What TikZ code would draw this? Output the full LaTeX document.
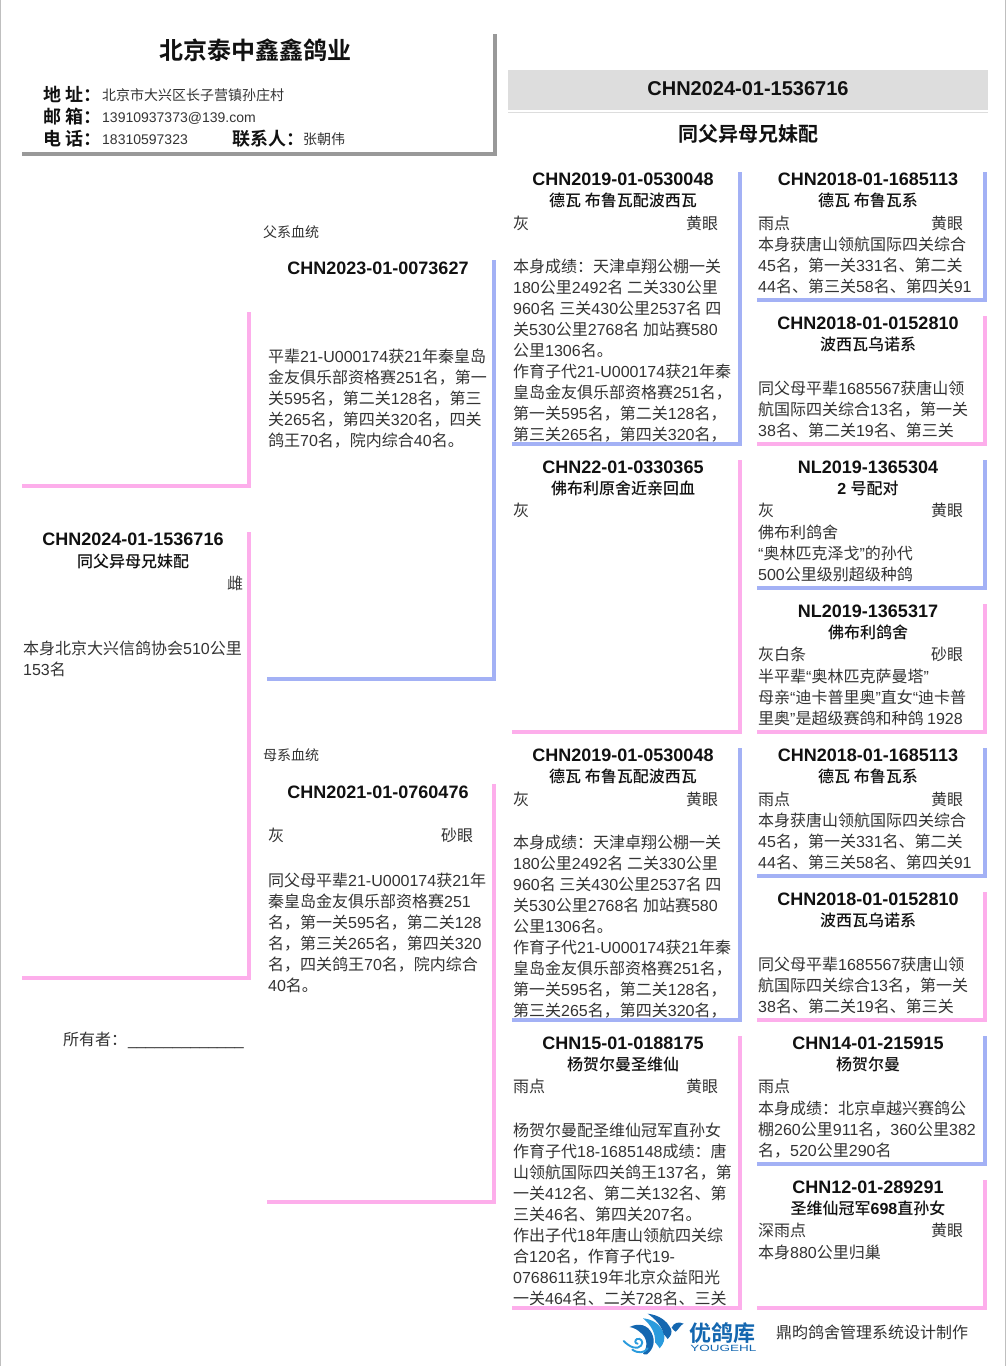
\documentclass[tikz,border=0pt]{standalone}
\usepackage{fontspec}
\setmainfont{Liberation Sans}
\newfontfamily\cjkf{Noto Sans CJK SC}[BoldFont={Noto Sans CJK SC Medium}]
\newfontfamily\cjkheavy{Noto Sans CJK SC}[UprightFont={Noto Sans CJK SC Bold},BoldFont={Noto Sans CJK SC Bold}]
\XeTeXinterchartokenstate=1
\newXeTeXintercharclass\cjkclass
\newcount\cc
\cc="4E00 \loop \XeTeXcharclass\cc=\cjkclass \ifnum\cc<"9FFF \advance\cc 1 \repeat
\cc="3000 \loop \XeTeXcharclass\cc=\cjkclass \ifnum\cc<"303F \advance\cc 1 \repeat
\cc="FF00 \loop \XeTeXcharclass\cc=\cjkclass \ifnum\cc<"FFEF \advance\cc 1 \repeat
\XeTeXinterchartoks 0 \cjkclass={\cjkf}
\XeTeXinterchartoks 4095 \cjkclass={\cjkf}
\XeTeXinterchartoks \cjkclass 0 ={\rmfamily}
\XeTeXinterchartoks 4095 0 ={\rmfamily}
\usepackage{xcolor}
\definecolor{txt}{HTML}{333333}
\definecolor{ink}{HTML}{111111}
\definecolor{bluebar}{HTML}{A3B1F5}
\definecolor{pinkbar}{HTML}{FDAEEB}
\definecolor{hdrbar}{HTML}{999999}
\definecolor{band}{HTML}{DDDDDD}
\definecolor{logod}{HTML}{1467B0}
\definecolor{logol}{HTML}{2A9BDD}
\newcount\tn
\newcommand{\fs}[1]{\fontsize{#1}{#1}\selectfont}
\newcommand{\hv}{\let\cjkf\cjkheavy}
\tikzset{
 bodytxt/.style={anchor=base west,inner sep=0pt,font=\fs{16},text=txt,yshift=-6.7pt},
 smalltxt/.style={anchor=base west,inner sep=0pt,font=\fs{14},text=txt,yshift=-5.5pt},
 labeltxt/.style={anchor=base west,inner sep=0pt,font=\hv\bfseries\fs{18},text=ink,yshift=-7.4pt},
 idtxt/.style={anchor=base,inner sep=0pt,font=\bfseries\fs{18},text=ink,yshift=-6.4pt},
 nametxt/.style={anchor=base,inner sep=0pt,font=\bfseries\fs{16},text=ink,yshift=-6.7pt},
 bigtxt/.style={anchor=base,inner sep=0pt,font=\hv\bfseries\fs{20},text=ink,yshift=-7.1pt},
 titletxt/.style={anchor=base,inner sep=0pt,font=\hv\bfseries\fs{24},text=ink,yshift=-8.5pt},
 bar/.style={line width=4pt,line cap=butt,line join=miter},
}
\newcommand{\TT}[4]{\global\advance\tn 1 \node[#1] (t\the\tn) at (#2,#3) {#4};}
\newcommand{\B}[3]{\TT{bodytxt}{#1}{#2}{#3}}
\newcommand{\ID}[3]{\TT{idtxt}{#1}{#2}{#3}}
\newcommand{\NM}[3]{\TT{nametxt}{#1}{#2}{#3}}
% pedigree box: colour, left, top, right, bottom (bar centre lines)
\newcommand{\PB}[5]{\draw[bar,#1] (#2,#5) -- (#4,#5) -- (#4,#3);}
\begin{document}
\begin{tikzpicture}[x=1pt,y=-1pt]
\useasboundingbox (0,0) rectangle (1006,1366);
\fill[white] (0,0) rectangle (1006,1366);
% page edges
\fill[black!25] (0,0) rectangle (1.3,1366);
\fill[black!25] (1004.5,0) rectangle (1006,1366);
% header card
\TT{titletxt}{255.5}{51}{北京泰中鑫鑫鸽业}
\TT{labeltxt}{43}{94}{地 址：}
\TT{labeltxt}{43}{116}{邮 箱：}
\TT{labeltxt}{43}{138}{电 话：}
\TT{smalltxt}{102}{95}{北京市大兴区长子营镇孙庄村}
\TT{smalltxt}{102}{117}{13910937373@139.com}
\TT{smalltxt}{102}{139}{18310597323}
\TT{labeltxt}{232}{138}{联系人：}
\TT{smalltxt}{303}{139}{张朝伟}
\draw[line width=4pt,hdrbar] (22,153.5) -- (494.5,153.5) -- (494.5,34);
% focus band
\fill[band] (508,70) rectangle (988,110);
\draw[band,line width=1pt] (508,112.5) -- (988,112.5);
\TT{bigtxt}{748}{88}{CHN2024-01-1536716}
\TT{bigtxt}{748}{134}{同父异母兄妹配}
% column 1
\ID{133}{539}{CHN2024-01-1536716}
\NM{133}{561}{同父异母兄妹配}
\B{227}{583}{雌}
\B{23}{648}{本身北京大兴信鸽协会510公里}
\B{23}{669}{153名}
\B{63}{1039}{所有者：}
\B{128}{1039}{\_\_\_\_\_\_\_\_\_\_\_\_\_}
% column 2
\TT{smalltxt}{263}{232}{父系血统}
\ID{378}{268}{CHN2023-01-0073627}
\B{268}{356}{平辈21-U000174获21年秦皇岛}
\B{268}{377}{金友俱乐部资格赛251名，第一}
\B{268}{398}{关595名，第二关128名，第三}
\B{268}{419}{关265名，第四关320名，四关}
\B{268}{440}{鸽王70名，院内综合40名。}
\TT{smalltxt}{263}{755}{母系血统}
\ID{378}{792}{CHN2021-01-0760476}
\B{268}{835}{灰}
\B{441}{835}{砂眼}
\B{268}{880}{同父母平辈21-U000174获21年}
\B{268}{901}{秦皇岛金友俱乐部资格赛251}
\B{268}{922}{名，第一关595名，第二关128}
\B{268}{943}{名，第三关265名，第四关320}
\B{268}{964}{名，四关鸽王70名，院内综合}
\B{268}{985}{40名。}
% column 3
\ID{623}{179}{CHN2019-01-0530048}
\NM{623}{200}{德瓦 布鲁瓦配波西瓦}
\B{513}{223}{灰}
\B{686}{223}{黄眼}
\B{513}{266}{本身成绩：天津卓翔公棚一关}
\B{513}{287}{180公里2492名 二关330公里}
\B{513}{308}{960名 三关430公里2537名 四}
\B{513}{329}{关530公里2768名 加站赛580}
\B{513}{350}{公里1306名。}
\B{513}{371}{作育子代21-U000174获21年秦}
\B{513}{392}{皇岛金友俱乐部资格赛251名，}
\B{513}{413}{第一关595名，第二关128名，}
\B{513}{434}{第三关265名，第四关320名，}
\ID{623}{467}{CHN22-01-0330365}
\NM{623}{488}{佛布利原舍近亲回血}
\B{513}{510}{灰}
\ID{623}{755}{CHN2019-01-0530048}
\NM{623}{776}{德瓦 布鲁瓦配波西瓦}
\B{513}{799}{灰}
\B{686}{799}{黄眼}
\B{513}{842}{本身成绩：天津卓翔公棚一关}
\B{513}{863}{180公里2492名 二关330公里}
\B{513}{884}{960名 三关430公里2537名 四}
\B{513}{905}{关530公里2768名 加站赛580}
\B{513}{926}{公里1306名。}
\B{513}{947}{作育子代21-U000174获21年秦}
\B{513}{968}{皇岛金友俱乐部资格赛251名，}
\B{513}{989}{第一关595名，第二关128名，}
\B{513}{1010}{第三关265名，第四关320名，}
\ID{623}{1043}{CHN15-01-0188175}
\NM{623}{1064}{杨贺尔曼圣维仙}
\B{513}{1086}{雨点}
\B{686}{1086}{黄眼}
\B{513}{1130}{杨贺尔曼配圣维仙冠军直孙女}
\B{513}{1151}{作育子代18-1685148成绩：唐}
\B{513}{1172}{山领航国际四关鸽王137名，第}
\B{513}{1193}{一关412名、第二关132名、第}
\B{513}{1214}{三关46名、第四关207名。}
\B{513}{1235}{作出子代18年唐山领航四关综}
\B{513}{1256}{合120名，作育子代19-}
\B{513}{1277}{0768611获19年北京众益阳光}
\B{513}{1298}{一关464名、二关728名、三关}
% column 4
\ID{868}{179}{CHN2018-01-1685113}
\NM{868}{200}{德瓦 布鲁瓦系}
\B{758}{223}{雨点}
\B{931}{223}{黄眼}
\B{758}{244}{本身获唐山领航国际四关综合}
\B{758}{265}{45名，第一关331名、第二关}
\B{758}{286}{44名、第三关58名、第四关91}
\ID{868}{323}{CHN2018-01-0152810}
\NM{868}{344}{波西瓦乌诺系}
\B{758}{388}{同父母平辈1685567获唐山领}
\B{758}{409}{航国际四关综合13名，第一关}
\B{758}{430}{38名、第二关19名、第三关}
\ID{868}{467}{NL2019-1365304}
\NM{868}{488}{2 号配对}
\B{758}{510}{灰}
\B{931}{510}{黄眼}
\B{758}{532}{佛布利鸽舍}
\B{758}{553}{“奥林匹克泽戈”的孙代}
\B{758}{574}{500公里级别超级种鸽}
\ID{868}{611}{NL2019-1365317}
\NM{868}{632}{佛布利鸽舍}
\B{758}{654}{灰白条}
\B{931}{654}{砂眼}
\B{758}{676}{半平辈“奥林匹克萨曼塔”}
\B{758}{697}{母亲“迪卡普里奥”直女“迪卡普}
\B{758}{718}{里奥”是超级赛鸽和种鸽 1928}
\ID{868}{755}{CHN2018-01-1685113}
\NM{868}{776}{德瓦 布鲁瓦系}
\B{758}{799}{雨点}
\B{931}{799}{黄眼}
\B{758}{820}{本身获唐山领航国际四关综合}
\B{758}{841}{45名，第一关331名、第二关}
\B{758}{862}{44名、第三关58名、第四关91}
\ID{868}{899}{CHN2018-01-0152810}
\NM{868}{920}{波西瓦乌诺系}
\B{758}{964}{同父母平辈1685567获唐山领}
\B{758}{985}{航国际四关综合13名，第一关}
\B{758}{1006}{38名、第二关19名、第三关}
\ID{868}{1043}{CHN14-01-215915}
\NM{868}{1064}{杨贺尔曼}
\B{758}{1086}{雨点}
\B{758}{1108}{本身成绩：北京卓越兴赛鸽公}
\B{758}{1129}{棚260公里911名，360公里382}
\B{758}{1150}{名，520公里290名}
\ID{868}{1187}{CHN12-01-289291}
\NM{868}{1208}{圣维仙冠军698直孙女}
\B{758}{1230}{深雨点}
\B{931}{1230}{黄眼}
\B{758}{1252}{本身880公里归巢}
% bars
\PB{pinkbar}{22}{312}{249}{486}
\PB{pinkbar}{22}{532}{249}{978}
\PB{bluebar}{267}{260}{494}{679}
\PB{pinkbar}{267}{784}{494}{1202}
\PB{bluebar}{512}{172}{739.5}{443.5}
\PB{pinkbar}{512}{460}{739.5}{731.5}
\PB{bluebar}{512}{748}{739.5}{1019.5}
\PB{pinkbar}{512}{1036}{739.5}{1307.5}
\PB{bluebar}{757}{172}{984.5}{299.5}
\PB{pinkbar}{757}{316}{984.5}{443.5}
\PB{bluebar}{757}{460}{984.5}{587.5}
\PB{pinkbar}{757}{604}{984.5}{731.5}
\PB{bluebar}{757}{748}{984.5}{875.5}
\PB{pinkbar}{757}{892}{984.5}{1019.5}
\PB{bluebar}{757}{1036}{984.5}{1163.5}
\PB{pinkbar}{757}{1180}{984.5}{1307.5}
% footer logo
\begin{scope}[shift={(615,1305)},x=0.3333pt,y=-0.3333pt]
\fill[logod] (44,66) .. controls (72,52) and (98,60) .. (110,84) .. controls (122,108) and (116,132) .. (96,148) .. controls (90,150) and (84,146) .. (84,146) .. controls (100,124) and (96,98) .. (78,84) .. controls (68,74) and (56,68) .. (44,66) -- cycle;
\fill[logol] (84,40) .. controls (112,42) and (136,58) .. (146,84) .. controls (152,102) and (146,116) .. (134,130) .. controls (132,126) and (124,116) .. (120,112) .. controls (122,84) and (108,60) .. (84,40) -- cycle;
\fill[logod] (98,26) .. controls (130,30) and (155,45) .. (168,72) .. controls (172,84) and (168,92) .. (158,102) .. controls (156,98) and (150,92) .. (146,88) .. controls (142,66) and (122,42) .. (98,26) -- cycle;
\fill[logod] (170,68) .. controls (176,54) and (190,48) .. (206,56) .. controls (196,60) and (192,72) .. (182,80) .. controls (178,78) and (174,74) .. (170,68) -- cycle;
\draw[logol,line width=1.9pt,line cap=round] (26,108) .. controls (44,126) and (66,136) .. (78,122) .. controls (88,110) and (76,98) .. (66,102) .. controls (58,106) and (60,116) .. (68,116);
\draw[logol,line width=1.9pt,line cap=round] (52,134) .. controls (70,146) and (88,144) .. (98,130);
\end{scope}
\global\advance\tn 1
\node[anchor=base west,inner sep=0pt,font=\hv\bfseries\fs{22},text=logod] (t\the\tn) at (689,1341) {优鸽库};
\global\advance\tn 1
\node[anchor=base west,inner sep=0pt,font=\fs{9},text=logod,xscale=1.5] (t\the\tn) at (690,1351) {YOUGEHL};
\B{776}{1332}{鼎昀鸽舍管理系统设计制作}
\end{tikzpicture}
\end{document}
